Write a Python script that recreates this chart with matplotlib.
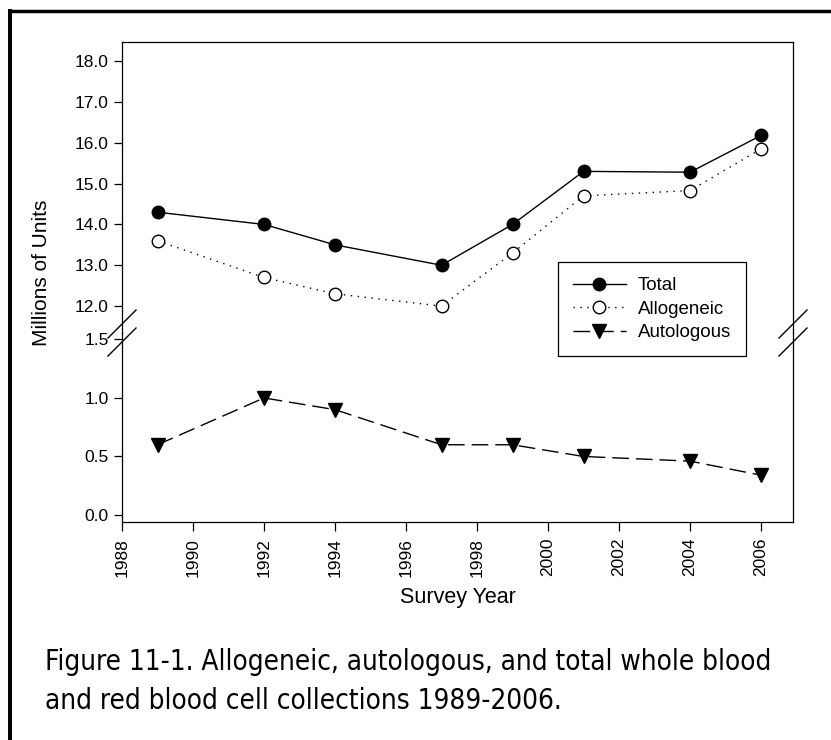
import matplotlib
matplotlib.use('Agg')
import numpy as np
import matplotlib.pyplot as plt
from matplotlib import font_manager
from matplotlib.lines import Line2D
from matplotlib.transforms import IdentityTransform

# Daten aus der Abbildung
years = [1989, 1992, 1994, 1997, 1999, 2001, 2004, 2006]
total = [14.3, 14.0, 13.5, 13.0, 14.0, 15.3, 15.28, 16.18]
allogeneic = [13.6, 12.7, 12.3, 12.0, 13.3, 14.7, 14.83, 15.85]
autologous = [0.6, 1.0, 0.9, 0.6, 0.6, 0.5, 0.46, 0.34]

x_ticks = list(range(1988, 2007, 2))
upper_ticks = [12.0, 13.0, 14.0, 15.0, 16.0, 17.0, 18.0]
lower_ticks = [0.0, 0.5, 1.0, 1.5]

caption = ("Figure 11-1. Allogeneic, autologous, and total whole blood\n"
           "and red blood cell collections 1989-2006.")

W, H = 831, 740
plt.rcParams['font.family'] = ['Liberation Sans', 'DejaVu Sans']

# schmale Schrift fuer die Bildunterschrift suchen
narrow = None
for key in ('LiberationSansNarrow-Regular', 'DejaVuSansCondensed.', 'Condensed-Regular',
            'Narrow-Regular'):
    for f in font_manager.fontManager.ttflist:
        if key in f.fname.split('/')[-1] and 'Bold' not in f.fname and 'Oblique' not in f.fname:
            narrow = f.fname
            break
    if narrow:
        break
if narrow:
    cap_props = dict(fontproperties=font_manager.FontProperties(fname=narrow, size=20))
else:
    cap_props = dict(fontsize=20.3)

fig = plt.figure(figsize=(W / 100, H / 100), dpi=100)

# Achsen in Pixeln (von oben gemessen)
left, right = 122, 793
top, brk, bottom = 42, 333, 522
L = left / W
Wd = (right - left) / W
ax_up = fig.add_axes([L, 1 - brk / H, Wd, (brk - top) / H])
ax_lo = fig.add_axes([L, 1 - bottom / H, Wd, (bottom - brk) / H])

l1, = ax_up.plot(years, total, '-', color='black', lw=1.0,
                 marker='o', ms=9, mfc='black', mec='black', label='Total')
l2, = ax_up.plot(years, allogeneic, color='black', lw=1.0, ls=(0, (1, 4)),
                 marker='o', ms=9, mfc='white', mec='black', mew=1.0,
                 label='Allogeneic')
l3, = ax_lo.plot(years, autologous, color='black', lw=1.0, ls=(0, (12, 5)),
                 marker='v', ms=10, mfc='black', mec='black', label='Autologous')

ax_up.set_ylim(11.34, 18.47)
ax_lo.set_ylim(-0.06, 1.555)
for ax in (ax_up, ax_lo):
    ax.set_xlim(1988, 2006.9)
    for s in ax.spines.values():
        s.set_linewidth(0.9)
    ax.tick_params(axis='y', direction='out', length=5.5, width=0.9,
                   labelsize=12.5, pad=4)
    ax.patch.set_alpha(0)

ax_up.spines['bottom'].set_visible(False)
ax_lo.spines['top'].set_visible(False)
ax_up.set_xticks([])
ax_up.set_yticks(upper_ticks)
ax_up.set_yticklabels(['%.1f' % v for v in upper_ticks])
ax_lo.set_yticks(lower_ticks)
ax_lo.set_yticklabels(['%.1f' % v for v in lower_ticks])
ax_lo.set_xticks(x_ticks)
ax_lo.set_xticklabels([str(v) for v in x_ticks], rotation=90)
ax_lo.tick_params(axis='x', direction='out', length=6.5, width=0.9,
                  labelsize=12.5, pad=5)

# Achsenbruch-Markierungen
yb = H - brk
for xs in (left, right):
    for dy in (9, -9):
        fig.add_artist(Line2D([xs - 14, xs + 14], [yb + dy - 14, yb + dy + 14],
                              transform=IdentityTransform(), color='black', lw=1.0))

# Rahmen links und oben
fig.add_artist(Line2D([10.3, 10.3], [0, H - 9.2], transform=IdentityTransform(),
                      color='black', lw=2.9, solid_capstyle='butt'))
fig.add_artist(Line2D([8.3, W], [H - 10.7, H - 10.7], transform=IdentityTransform(),
                      color='black', lw=2.5, solid_capstyle='butt'))

fig.text(42 / W, 1 - 273 / H, 'Millions of Units', rotation=90,
         ha='center', va='center', fontsize=15)
fig.text((left + right) / 2 / W, 1 - 598 / H, 'Survey Year',
         ha='center', va='center', fontsize=15.5)

fig.legend(handles=[l1, l2, l3], loc='upper left',
           bbox_to_anchor=(558 / W, 1 - 262 / H), borderaxespad=0,
           fontsize=13.5, numpoints=1, handlelength=2.8, handletextpad=0.66,
           labelspacing=0.35, borderpad=0.8, fancybox=False, framealpha=1,
           edgecolor='black').get_frame().set_linewidth(0.9)

fig.text(45 / W, 1 - 648 / H, caption, ha='left', va='top',
         linespacing=1.5, **cap_props)

fig.savefig('out.png', dpi=100)
